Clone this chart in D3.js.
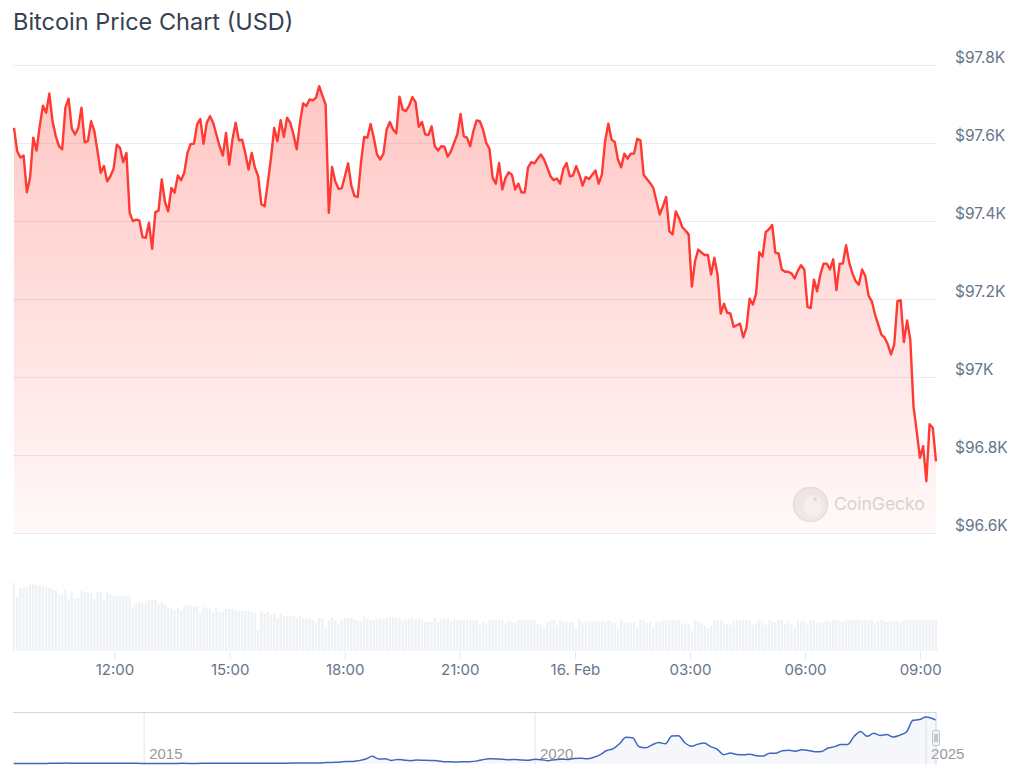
<!DOCTYPE html>
<html>
<head>
<meta charset="utf-8">
<script src="https://cdn.jsdelivr.net/npm/d3@7"></script>
<style>
  body { margin: 0; background: #fff; }
  svg text { font-family: Inter, "Noto Sans", sans-serif; }
</style>
</head>
<body>
<div id="chart"></div>
<script>
// 5-minute BTC prices (USD), 15 Feb 09:22 -> 16 Feb 09:24 (UTC)
const prices = [
  97640, 97580, 97564, 97569, 97475, 97513, 97615, 97582, 97644, 97697,
  97679, 97728, 97657, 97619, 97593, 97585, 97692, 97715, 97638, 97623,
  97640, 97692, 97603, 97606, 97657, 97632, 97580, 97525, 97542, 97503,
  97516, 97535, 97597, 97589, 97552, 97576, 97422, 97401, 97405, 97403,
  97360, 97358, 97397, 97330, 97424, 97428, 97508, 97450, 97426, 97486,
  97474, 97518, 97506, 97525, 97576, 97599, 97599, 97649, 97663, 97599,
  97653, 97670, 97653, 97623, 97593, 97569, 97627, 97546, 97610, 97653,
  97608,
  97610, 97576, 97533, 97576, 97538, 97516, 97444, 97439, 97499, 97563,
  97640, 97606, 97660, 97617, 97666, 97653, 97623, 97585, 97653, 97703,
  97696, 97713, 97711, 97717, 97747, 97723, 97700, 97422, 97540, 97503,
  97484, 97485, 97516, 97549, 97492, 97465, 97463, 97550, 97617, 97615,
  97650, 97615, 97572, 97559, 97574, 97636, 97655, 97636, 97626, 97720,
  97687, 97683, 97697, 97719, 97706, 97643, 97655, 97623, 97622, 97644,
  97593, 97582, 97593, 97592, 97566, 97580, 97602, 97623, 97676, 97619,
  97615,
  97593, 97632, 97659, 97657, 97636, 97602, 97586, 97512, 97497, 97550,
  97482, 97512, 97526, 97520, 97482, 97497, 97474, 97475, 97538, 97552,
  97549, 97561, 97572, 97559, 97538, 97516, 97506, 97510, 97497, 97535,
  97550, 97516, 97518, 97542, 97520, 97492, 97514, 97509, 97520, 97531,
  97497, 97520, 97606, 97651, 97610, 97604, 97559, 97539, 97574, 97561,
  97574, 97574, 97612, 97608, 97520, 97509, 97499, 97486, 97452, 97418,
  97439, 97463, 97375, 97367, 97426, 97409, 97386, 97377, 97367, 97233,
  97298, 97328, 97320, 97314, 97314,
  97264, 97307, 97264, 97164, 97189, 97166, 97164, 97130, 97134, 97138,
  97103, 97127, 97202, 97187, 97215, 97321, 97310, 97373, 97380, 97391,
  97320, 97318, 97277, 97271, 97271, 97267, 97254, 97274, 97288, 97277,
  97181, 97178, 97251, 97221, 97264, 97292, 97292, 97277, 97303, 97224,
  97292, 97292, 97339, 97294, 97267, 97247, 97238, 97277, 97260, 97210,
  97196, 97162, 97136, 97110, 97102, 97085, 97059, 97085, 97196, 97198,
  97091, 97146, 97097, 96926, 96862, 96794, 96824, 96734, 96880, 96871,
  96785
];

// traded volume per point ($100M, relative)
const volumes = [
  68, 54, 63, 64, 64, 67, 67, 66, 66, 65, 64, 63, 62, 61, 56, 56, 61, 52, 60, 53,
  53, 60, 59, 59, 58, 52, 59, 59, 51, 59, 57, 55, 55, 55, 55, 55, 55, 44, 47, 49,
  48, 48, 51, 51, 51, 47, 49, 47, 44, 43, 41, 43, 41, 45, 46, 45, 45, 45, 38, 44,
  43, 42, 38, 43, 39, 39, 42, 42, 42, 41, 40, 40, 40, 40, 39, 38, 21, 40, 37, 39,
  36, 38, 33, 37, 35, 35, 35, 35, 33, 35, 33, 32, 33, 31, 29, 33, 33, 24, 31,
  34, 30, 27, 31, 33, 33, 33, 31, 30, 30, 34, 33, 31, 31, 32, 33, 33, 33, 34, 34,
  34, 33, 30, 31, 32, 33, 31, 33, 31, 29, 29, 29, 33, 29, 32, 33, 32, 30, 32, 31,
  31, 31, 31, 31, 31, 31, 26, 29, 27, 31, 31, 31, 31, 31, 28, 31, 29, 28, 31, 30,
  31, 31, 31, 30, 27, 26, 23, 29, 31, 31, 26, 31, 29, 29, 29, 29, 22, 31, 28, 29,
  30, 29, 30, 29, 31, 29, 31, 29, 28, 23, 31, 29, 29, 28, 29, 24, 31, 31,
  28, 29, 24, 29, 29, 30, 31, 30, 31, 30, 31, 27, 28, 27, 20, 31, 30, 28, 26, 23,
  25, 31, 30, 31, 28, 27, 26, 30, 31, 31, 31, 31, 30, 26, 28, 31, 28, 26, 31, 30,
  29, 31, 31, 27, 28, 26, 23, 31, 30, 30, 26, 31, 30, 28, 29, 29, 31, 29, 31, 31,
  30, 29, 31, 31, 31, 31, 31, 30, 31, 30, 31, 28, 30, 31, 30, 29, 29, 30, 30, 28,
  31, 30, 31, 31, 31, 31, 30, 31, 31, 31, 31
];

const startTime = Date.UTC(2025, 1, 15, 9, 22);
const endTime = Date.UTC(2025, 1, 16, 9, 24);

const yTicks = [96600, 96800, 97000, 97200, 97400, 97600, 97800];

// navigator: monthly BTC price, May 2013 -> Feb 2025
const navPrices = [
  120, 100, 90, 110, 130, 180, 700, 750,
  850, 600, 480, 450, 600, 630, 590, 500, 400, 340, 380, 320,
  220, 250, 250, 230, 235, 250, 285, 230, 235, 310, 370, 430,
  370, 435, 415, 450, 530, 670, 625, 575, 610, 700, 740, 960,
  970, 1190, 1070, 1350, 2300, 2500, 2850, 4700, 4300, 6400, 10000, 16000,
  10200, 10400, 6900, 9200, 7500, 6400, 7700, 7000, 6600, 6300, 4000, 3700,
  3450, 3800, 4100, 5300, 8500, 10800, 10000, 9600, 8300, 9200, 7600, 7200,
  9350, 8600, 6400, 8600, 9450, 9150, 11350, 11650, 10800, 13800, 19700, 29000,
  33100, 45200, 58800, 57700, 37300, 35000, 41500, 47100, 43800, 61300, 62000, 46300,
  38500, 43200, 45500, 37700, 31800, 19800, 23300, 20000, 19400, 20500, 17200, 16500,
  23100, 23100, 28500, 29300, 27200, 30500, 29200, 26000, 27000, 34500, 37700, 42300,
  42600, 61200, 71300, 60600, 67500, 62700, 64600, 59000, 63300, 70200, 96400, 98000,
  104000, 97000
];
const navStart = Date.UTC(2013, 4, 1);
const navYears = [2015, 2020, 2025];

const width = 1024, height = 784;
const plot = { left: 14, right: 936, top: 65.5, bottom: 533.5 };
const vol = { top: 583, bottom: 651 };
const nav = { left: 13, right: 936, top: 712.5, bottom: 765 };

const svg = d3.select("#chart").append("svg")
    .attr("width", width)
    .attr("height", height);

const step = (endTime - startTime) / (prices.length - 1);
const points = prices.map((p, i) => ({ t: new Date(startTime + i * step), p: p, v: volumes[i] }));

const x = d3.scaleUtc().domain([startTime, endTime]).range([plot.left, plot.right]);
const y = d3.scaleLinear().domain([96600, 97800]).range([plot.bottom, plot.top]);
const yVol = d3.scaleLinear().domain([0, d3.max(volumes)]).range([vol.bottom, vol.top]);

// title
svg.append("text")
    .attr("x", 13)
    .attr("y", 30)
    .attr("fill", "#364152")
    .style("font-size", "23.5px")
    .text("Bitcoin Price Chart (USD)");

// gridlines + right axis labels
svg.append("g")
    .selectAll("line")
    .data(yTicks)
    .enter()
    .append("line")
    .attr("x1", plot.left - 1)
    .attr("x2", plot.right)
    .attr("y1", d => y(d))
    .attr("y2", d => y(d))
    .attr("stroke", "#e9ecf1")
    .attr("stroke-width", 1);

svg.append("g")
    .selectAll("text")
    .data(yTicks)
    .enter()
    .append("text")
    .attr("x", 955)
    .attr("y", d => y(d) - 3)
    .attr("fill", "#66758a")
    .style("font-size", "15.5px")
    .text(d => "$" + (d / 1000) + "K");

// watermark
const wm = svg.append("g").attr("opacity", 0.9);
wm.append("circle")
    .attr("cx", 810.5).attr("cy", 504.5).attr("r", 17)
    .attr("fill", "#ededed").attr("stroke", "#e2e2e2").attr("stroke-width", 1.5);
wm.append("ellipse")
    .attr("cx", 813).attr("cy", 506).attr("rx", 9).attr("ry", 11)
    .attr("fill", "#f6f6f6");
wm.append("circle")
    .attr("cx", 815).attr("cy", 499).attr("r", 2)
    .attr("fill", "#dcdcdc");
wm.append("text")
    .attr("x", 834)
    .attr("y", 510)
    .attr("fill", "#d4d4d4")
    .style("font-size", "17.5px")
    .text("CoinGecko");

// area gradient
const defs = svg.append("defs");
const grad = defs.append("linearGradient")
    .attr("id", "priceFade")
    .attr("gradientUnits", "userSpaceOnUse")
    .attr("x1", 0).attr("y1", plot.top)
    .attr("x2", 0).attr("y2", plot.bottom);
grad.append("stop").attr("offset", 0).attr("stop-color", "#ff3a33").attr("stop-opacity", 0.3);
grad.append("stop").attr("offset", 1).attr("stop-color", "#ff3a33").attr("stop-opacity", 0.03);

svg.append("path")
    .datum(points)
    .attr("fill", "url(#priceFade)")
    .attr("d", d3.area()
        .x(d => x(d.t))
        .y0(plot.bottom)
        .y1(d => y(d.p)));

svg.append("path")
    .datum(points)
    .attr("fill", "none")
    .attr("stroke", "#ff3a33")
    .attr("stroke-width", 2.4)
    .attr("stroke-linejoin", "round")
    .attr("d", d3.line()
        .x(d => x(d.t))
        .y(d => y(d.p)));

// volume bars
const barW = 2.3;
svg.append("g")
    .selectAll("rect")
    .data(points)
    .enter()
    .append("rect")
    .attr("x", d => x(d.t) - barW / 2)
    .attr("y", d => yVol(d.v))
    .attr("width", barW)
    .attr("height", d => vol.bottom - yVol(d.v))
    .attr("fill", "#eef1f5");

// x axis, every 3 hours on the clock
const xTicks = d3.utcHour.every(3).range(new Date(startTime), new Date(endTime));
const fmtHour = d3.utcFormat("%H:%M");
const fmtDay = d3.utcFormat("%-d. %b");
const xAxis = svg.append("g");
xAxis.selectAll("line")
    .data(xTicks)
    .enter()
    .append("line")
    .attr("x1", d => x(d)).attr("x2", d => x(d))
    .attr("y1", vol.bottom + 1).attr("y2", vol.bottom + 8)
    .attr("stroke", "#e3e7ed");
xAxis.selectAll("text")
    .data(xTicks)
    .enter()
    .append("text")
    .attr("x", d => x(d))
    .attr("y", 675)
    .attr("text-anchor", "middle")
    .attr("fill", "#66758a")
    .style("font-size", "15px")
    .text(d => d.getUTCHours() === 0 ? fmtDay(d) : fmtHour(d));

// navigator
const navEnd = endTime;
const navPoints = navPrices.map((p, i) => ({
    t: i === navPrices.length - 1 ? new Date(navEnd) : d3.utcMonth.offset(new Date(navStart), i),
    p: p
}));
const navX = d3.scaleUtc().domain([Date.UTC(2013, 3, 28), navEnd]).range([nav.left, nav.right]);
const navY = d3.scaleLinear().domain([0, 106000]).range([763.5, 716]);

const navG = svg.append("g");
const yearDates = navYears.map(yr => new Date(Date.UTC(yr, 0, 1)));
navG.selectAll("line.grid")
    .data(yearDates)
    .enter()
    .append("line")
    .attr("class", "grid")
    .attr("x1", d => navX(d)).attr("x2", d => navX(d))
    .attr("y1", nav.top).attr("y2", nav.bottom)
    .attr("stroke", "#e6e6e6");

navG.append("path")
    .datum(navPoints)
    .attr("fill", "rgba(51,92,173,0.05)")
    .attr("d", d3.area()
        .curve(d3.curveMonotoneX)
        .x(d => navX(d.t))
        .y0(763.5)
        .y1(d => navY(d.p)));

navG.append("path")
    .datum(navPoints)
    .attr("fill", "none")
    .attr("stroke", "#3f67c0")
    .attr("stroke-width", 1.5)
    .attr("d", d3.line()
        .curve(d3.curveMonotoneX)
        .x(d => navX(d.t))
        .y(d => navY(d.p)));

navG.selectAll("text")
    .data(yearDates)
    .enter()
    .append("text")
    .attr("x", d => navX(d) + 5)
    .attr("y", 759)
    .attr("fill", "#999")
    .style("font-family", "'Liberation Sans', Arial, sans-serif")
    .style("font-size", "15px")
    .text(d => d.getUTCFullYear());

navG.append("path")
    .attr("d", `M${nav.left},${nav.top}H${nav.right}V${nav.bottom}`)
    .attr("fill", "none")
    .attr("stroke", "#ccd6eb")
    .attr("stroke-width", 1);

// range handle
const hx = nav.right - 4;
navG.append("rect")
    .attr("x", hx + 0.5).attr("y", 730.5)
    .attr("width", 7).attr("height", 15)
    .attr("rx", 1)
    .attr("fill", "#f2f2f2")
    .attr("stroke", "#b9c4d6");
navG.append("path")
    .attr("d", `M${hx + 3},734V742M${hx + 5},734V742`)
    .attr("stroke", "#999")
    .attr("stroke-width", 1);
</script>
</body>
</html>
